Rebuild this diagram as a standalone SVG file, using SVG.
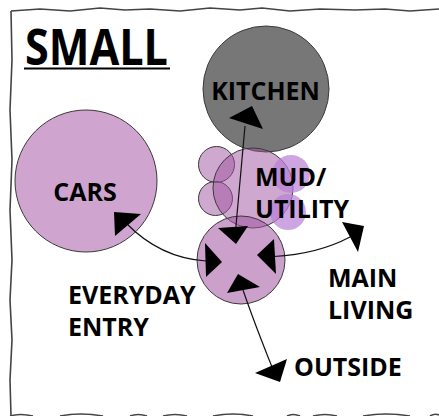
<svg xmlns="http://www.w3.org/2000/svg" width="439" height="416" viewBox="0 0 439 416">
<style>
.t{font-family:"Open Sans","Liberation Sans",sans-serif;font-weight:bold;font-size:25px;fill:#000}
.bd{fill:none;stroke:#444;stroke-width:1.6;stroke-linejoin:round}
.edge{fill:none;stroke:#111;stroke-width:1.2}
.ah{fill:#000;stroke:none}
.ring{stroke:#3a3a3a;stroke-width:1}
.mud{fill:#A052A0;fill-opacity:0.5}
.lav{fill:#B77FD6;fill-opacity:0.7;stroke:none}
</style>
<rect width="439" height="416" fill="#fff"/>
<g id="frame">
<path class="bd" d="M11,11 L40,9 L70,11 L100,8 L125,10 L150,9 L180,11 L210,8 L240,10 L262,8 L290,11 L320,9 L355,10 L385,9 L410,11 L439,9"/>
<path class="bd" d="M11,11 L12,60 L10,110 L12,160 L10,210 L12,260 L10,300 L12,340 L10,380 L11,416"/>
<path class="bd" stroke-width="2" d="M10,416 Q20,413 33,416 M60,416 Q80,412 103,416 M130,416 Q138,413 147,416 M163,416 Q175,413 187,416 M213,416 Q233,412 253,416 M287,416 Q293,413 300,416 M313,416 Q325,413 337,416 M363,416 Q386,412 410,416 M430,416 Q435,413 439,415"/>
</g>
<g id="title">
<text class="t" x="25" y="65" style="font-size:50px" textLength="143" lengthAdjust="spacingAndGlyphs">SMALL</text>
<line x1="24" y1="68.5" x2="170" y2="68.5" stroke="#000" stroke-width="2.2"/>
</g>
<g id="kitchen">
<circle class="ring" cx="266" cy="89" r="63" fill="#777"/>
<text class="t" x="265.5" y="100" text-anchor="middle">KITCHEN</text>
</g>
<g id="cars">
<circle class="ring" cx="86" cy="181" r="71" fill="#CFA5CF"/>
<text class="t" x="85" y="201" text-anchor="middle">CARS</text>
</g>
<g id="mud-utility">
<circle class="ring mud" cx="216.5" cy="164.5" r="18"/>
<circle class="ring mud" cx="215.5" cy="198.5" r="17"/>
<circle class="ring mud" cx="253" cy="188" r="40"/>
<circle class="lav" cx="291" cy="174" r="19"/>
<circle class="lav" cx="288" cy="212" r="18"/>
<text class="t" x="255" y="186">MUD/</text>
<text class="t" x="255" y="218">UTILITY</text>
</g>
<g id="everyday-entry">
<circle class="ring mud" cx="241" cy="260" r="44" style="fill-opacity:0.55"/>
<text class="t" x="68" y="304">EVERYDAY</text>
<text class="t" x="68" y="336">ENTRY</text>
</g>
<g id="main-living">
<text class="t" x="328" y="287">MAIN</text>
<text class="t" x="328" y="319">LIVING</text>
</g>
<g id="outside">
<text class="t" x="294" y="376">OUTSIDE</text>
</g>
<g id="connectors">
<path class="edge" d="M245,126 L235.7,229"/>
<polygon class="ah" points="229,118 252,106 263,129"/>
<polygon class="ah" points="218,228 248,226 236,244"/>
<path class="edge" d="M126,223 Q160,258 206,261"/>
<polygon class="ah" points="114,212 141,214 115,236"/>
<polygon class="ah" points="205,243 222,262 206,277"/>
<path class="edge" d="M274,256.5 Q318,254 350,237"/>
<polygon class="ah" points="257,255 274,239 276,274"/>
<polygon class="ah" points="342,222 364,226 358,252"/>
<path class="edge" d="M243,290 Q254,322 272,367"/>
<polygon class="ah" points="227,293 238,274 260,287"/>
<polygon class="ah" points="255,373 287,359 280,382"/>
</g>
</svg>
